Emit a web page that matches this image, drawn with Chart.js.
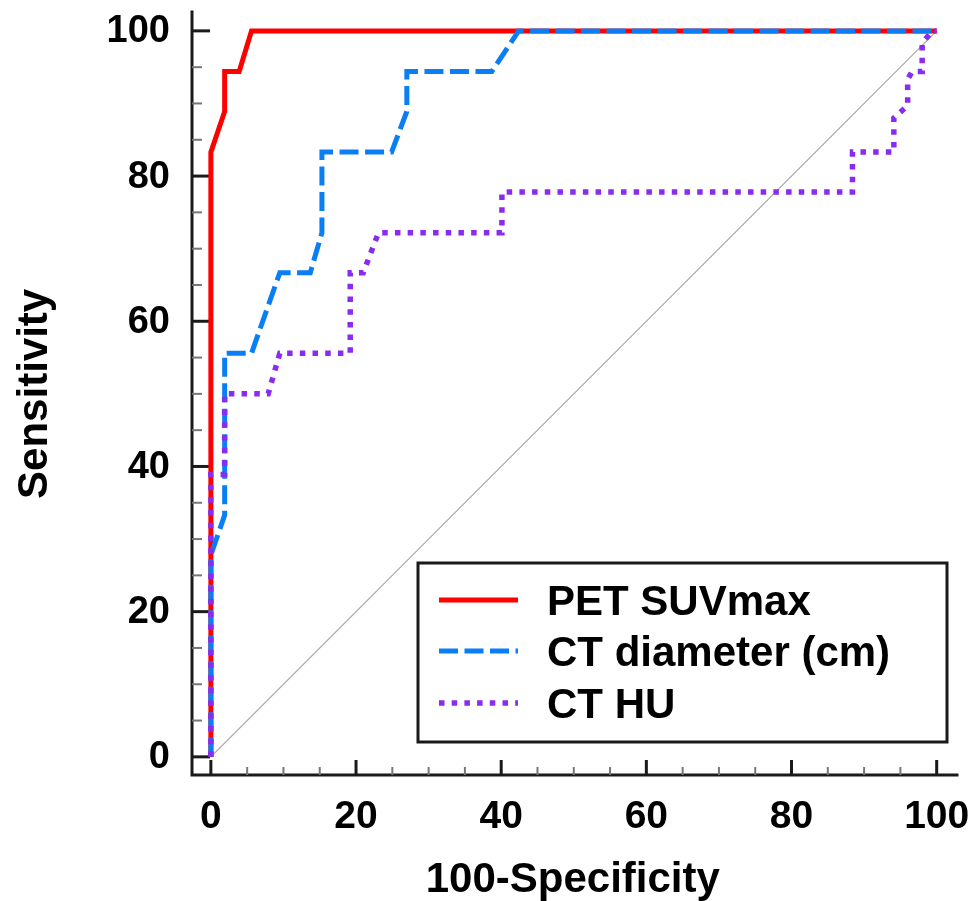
<!DOCTYPE html>
<html>
<head>
<meta charset="utf-8">
<script src="https://cdn.jsdelivr.net/npm/chart.js@4/dist/chart.umd.min.js"></script>
<style>
html,body{margin:0;padding:0;background:#fff;overflow:hidden;}
#wrap{position:relative;width:970px;height:901px;}
</style>
</head>
<body>
<div id="wrap"><canvas id="c"></canvas></div>
<script>
// ---- Data ----
const seriesLabels = ['PET SUVmax', 'CT diameter (cm)', 'CT HU'];

const petX = [0, 0, 1.9, 1.9, 3.9, 5.6, 100];
const petY = [0, 83.3, 88.9, 94.4, 94.4, 100, 100];

const ctDiamX = [0, 0, 1.9, 1.9, 5.6, 9.5, 13.7, 15.3, 15.3, 24.9, 27.0, 27.0, 38.7, 42.4, 100];
const ctDiamY = [0, 27.8, 33.3, 55.6, 55.6, 66.7, 66.7, 72.2, 83.3, 83.3, 88.9, 94.4, 94.4, 100, 100];

const ctHuX = [0, 0, 1.9, 1.9, 7.9, 9.5, 19.2, 19.2, 21.0, 23.1, 40.1, 40.1, 88.4, 88.4, 94.1, 94.1, 96.0, 96.0, 96.6, 98.0, 98.0, 99.4, 100];
const ctHuY = [0, 38.9, 38.9, 50.0, 50.0, 55.6, 55.6, 66.7, 66.7, 72.2, 72.2, 77.8, 77.8, 83.3, 83.3, 88.0, 89.7, 93.3, 94.4, 94.4, 98.3, 100, 100];

const refX = [0, 100];
const refY = [0, 100];

const xTickValues = [0, 20, 40, 60, 80, 100];
const xTickLabels = ['0', '20', '40', '60', '80', '100'];
const yTickValues = [0, 20, 40, 60, 80, 100];
const yTickLabels = ['0', '20', '40', '60', '80', '100'];
const minorStep = 5;

const xTitle = '100-Specificity';
const yTitle = 'Sensitivity';

// ---- helpers ----
function pts(xs, ys) { return xs.map((x, i) => ({ x: x, y: ys[i] })); }
const FONT = "'Liberation Sans', Arial, Helvetica, sans-serif";

const axesPlugin = {
  id: 'rocAxes',
  beforeDatasetsDraw(chart) {
    const ctx = chart.ctx;
    const xs = chart.scales.x, ys = chart.scales.y;
    const ca = chart.chartArea;
    const axX = ca.left, axY = ca.bottom;
    ctx.save();
    // axis lines
    ctx.strokeStyle = '#1a1a1a';
    ctx.lineWidth = 3;
    ctx.lineCap = 'square';
    ctx.beginPath();
    ctx.moveTo(axX, ca.top);
    ctx.lineTo(axX, axY);
    ctx.lineTo(ca.right, axY);
    ctx.stroke();
    ctx.lineCap = 'butt';
    // minor ticks
    ctx.strokeStyle = '#777';
    ctx.lineWidth = 2;
    for (let v = 0; v <= 100; v += minorStep) {
      if (v % 20 === 0) continue;
      const py = ys.getPixelForValue(v);
      ctx.beginPath(); ctx.moveTo(axX, py); ctx.lineTo(axX + 10, py); ctx.stroke();
      const px = xs.getPixelForValue(v);
      ctx.beginPath(); ctx.moveTo(px, axY); ctx.lineTo(px, axY - 8); ctx.stroke();
    }
    // major ticks
    ctx.strokeStyle = '#1a1a1a';
    ctx.lineWidth = 3;
    yTickValues.forEach(v => {
      const py = ys.getPixelForValue(v);
      ctx.beginPath(); ctx.moveTo(axX, py); ctx.lineTo(axX + 18, py); ctx.stroke();
    });
    xTickValues.forEach(v => {
      const px = xs.getPixelForValue(v);
      ctx.beginPath(); ctx.moveTo(px, axY); ctx.lineTo(px, axY - 15); ctx.stroke();
    });
    // tick labels
    ctx.fillStyle = '#000';
    ctx.font = 'bold 38px ' + FONT;
    ctx.textAlign = 'right';
    ctx.textBaseline = 'middle';
    yTickValues.forEach((v, i) => {
      ctx.fillText(yTickLabels[i], 170, ys.getPixelForValue(v) + 1);
    });
    ctx.font = 'bold 39px ' + FONT;
    ctx.textAlign = 'center';
    ctx.textBaseline = 'alphabetic';
    xTickValues.forEach((v, i) => {
      ctx.fillText(xTickLabels[i], xs.getPixelForValue(v), 828);
    });
    // axis titles
    ctx.font = 'bold 42px ' + FONT;
    ctx.textAlign = 'center';
    ctx.textBaseline = 'alphabetic';
    const midX = (xs.getPixelForValue(0) + xs.getPixelForValue(100)) / 2;
    ctx.fillText(xTitle, midX - 1, 892);
    const midY = (ys.getPixelForValue(0) + ys.getPixelForValue(100)) / 2;
    ctx.save();
    ctx.translate(47, midY);
    ctx.rotate(-Math.PI / 2);
    ctx.fillText(yTitle, 0, 0);
    ctx.restore();
    ctx.restore();
  },
  afterDraw(chart) {
    const ctx = chart.ctx;
    ctx.save();
    const bx = 418, by = 563, bw = 529, bh = 179;
    ctx.fillStyle = '#fff';
    ctx.fillRect(bx, by, bw, bh);
    ctx.strokeStyle = '#1a1a1a';
    ctx.lineWidth = 3;
    ctx.strokeRect(bx, by, bw, bh);
    const rows = [600, 651, 703];
    const dsIdx = [0, 1, 2];
    ctx.font = 'bold 42px ' + FONT;
    ctx.textAlign = 'left';
    ctx.textBaseline = 'alphabetic';
    dsIdx.forEach((di, r) => {
      const ds = chart.data.datasets[di];
      const y = rows[r];
      ctx.save();
      ctx.strokeStyle = ds.borderColor;
      ctx.lineWidth = ds.borderWidth;
      ctx.lineCap = 'butt';
      ctx.setLineDash(ds.borderDash || []);
      ctx.beginPath(); ctx.moveTo(439, y); ctx.lineTo(518, y); ctx.stroke();
      ctx.restore();
      ctx.fillStyle = '#000';
      ctx.fillText(ds.label, 547, y + 15);
    });
    ctx.restore();
  }
};

new Chart(document.getElementById('c'), {
  type: 'line',
  data: {
    datasets: [
      { label: seriesLabels[0], data: pts(petX, petY), borderColor: '#ff0000', borderWidth: 5,
        borderDash: [], order: 3 },
      { label: seriesLabels[1], data: pts(ctDiamX, ctDiamY), borderColor: '#0a7ff5', borderWidth: 5,
        borderDash: [19, 6.5], order: 2 },
      { label: seriesLabels[2], data: pts(ctHuX, ctHuY), borderColor: '#8a2cf0', borderWidth: 5.5,
        borderDash: [5.5, 7.2], order: 1 },
      { label: 'Reference', data: pts(refX, refY), borderColor: '#a8a8a8', borderWidth: 1.3,
        borderDash: [], order: 4 }
    ]
  },
  options: {
    responsive: true,
    maintainAspectRatio: false,
    animation: false,
    devicePixelRatio: 1,
    layout: { padding: { left: 192, right: 13, top: 12, bottom: 126 } },
    elements: {
      line: { tension: 0, fill: false, borderCapStyle: 'butt', borderJoinStyle: 'miter' },
      point: { radius: 0, hoverRadius: 0 }
    },
    scales: {
      x: { type: 'linear', min: -2.6, max: 102.8, display: false },
      y: { type: 'linear', min: -2.5, max: 102.6, display: false }
    },
    plugins: {
      legend: { display: false },
      tooltip: { enabled: false },
      title: { display: false }
    }
  },
  plugins: [axesPlugin]
});
</script>
</body>
</html>
